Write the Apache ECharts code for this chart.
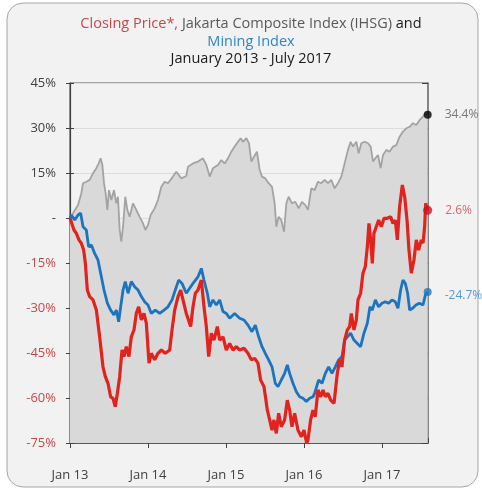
<!DOCTYPE html>
<html>
<head>
<meta charset="utf-8">
<script src="https://cdn.jsdelivr.net/npm/echarts@6/dist/echarts.min.js"></script>
<style>
html,body{margin:0;padding:0;background:#ffffff;}
#c{width:482px;height:491px;}
</style>
</head>
<body>
<div id="c"></div>
<script>
// ---- data: x = years since Jan 2013, y = % change since Jan 2013 ----
const ihsgYears = [0,0.038,0.103,0.145,0.167,0.209,0.252,0.295,0.338,0.368,0.393,0.415,0.436,0.457,0.479,0.5,0.53,0.564,0.594,0.615,0.637,0.658,0.68,0.709,0.735,0.765,0.808,0.85,0.893,0.936,0.966,1.0,1.034,1.085,1.128,1.171,1.214,1.256,1.32,1.363,1.427,1.491,1.513,1.577,1.641,1.705,1.748,1.791,1.833,1.897,1.94,1.983,2.026,2.068,2.111,2.154,2.188,2.218,2.261,2.295,2.325,2.359,2.397,2.432,2.462,2.504,2.547,2.59,2.624,2.645,2.675,2.709,2.744,2.774,2.803,2.846,2.889,2.932,2.974,3.017,3.051,3.094,3.137,3.179,3.222,3.265,3.308,3.35,3.393,3.436,3.479,3.521,3.564,3.598,3.628,3.671,3.701,3.735,3.778,3.821,3.855,3.885,3.915,3.949,3.983,4.013,4.056,4.098,4.141,4.184,4.226,4.269,4.312,4.355,4.397,4.44,4.483,4.526,4.556,4.586];
const ihsgValues = [0,1.6,4.3,8.2,11.6,12.1,12.7,14.9,16.6,18.2,19.9,17.7,11.6,8.2,2.7,9.3,6,9.3,4.9,7.1,-4,-7.9,-2.9,7.1,2.7,0.4,4.9,2.7,0.4,-1.8,-4,-2.3,1,3.2,6,10.4,12.1,11.6,13.8,15.4,13.2,14,17.1,18.2,18.8,19.9,17.7,13.8,16.6,17.7,19.3,18.2,19.9,22.1,23.8,25.4,26.6,25.4,26.6,24.9,18.8,20.4,22.1,16,13.8,13.2,11.6,10.4,4.9,-2.9,0.4,-0.7,-4.6,4.9,7.1,4.9,5.4,3.2,5.4,4.3,2.7,9.9,9.3,12.1,11.6,12.7,11.6,12.7,9.9,11.6,13.8,18.2,22.7,25.4,23.8,25.4,21.6,24.9,25.4,24.9,23.8,18.8,19.9,21,16.6,21,22.7,22.1,23.8,24.3,27.1,28.8,29.9,30.4,31.6,31,32.7,33.8,34.9,34.4];

const closingYears = [0,0.017,0.051,0.081,0.115,0.145,0.175,0.197,0.222,0.252,0.295,0.338,0.38,0.423,0.453,0.487,0.521,0.551,0.581,0.607,0.637,0.667,0.692,0.722,0.756,0.786,0.821,0.85,0.88,0.915,0.949,0.979,1.013,1.043,1.085,1.128,1.171,1.222,1.278,1.308,1.342,1.385,1.419,1.449,1.491,1.513,1.547,1.577,1.607,1.641,1.684,1.718,1.748,1.778,1.812,1.846,1.889,1.919,1.962,2.004,2.047,2.09,2.132,2.175,2.231,2.282,2.325,2.368,2.41,2.444,2.487,2.53,2.56,2.59,2.615,2.645,2.675,2.709,2.752,2.786,2.816,2.846,2.88,2.923,2.966,3.0,3.034,3.051,3.085,3.115,3.145,3.179,3.214,3.244,3.274,3.308,3.342,3.385,3.427,3.457,3.487,3.521,3.556,3.585,3.607,3.641,3.671,3.692,3.726,3.756,3.786,3.812,3.833,3.855,3.876,3.897,3.927,3.957,3.991,4.026,4.068,4.111,4.141,4.171,4.197,4.226,4.261,4.291,4.321,4.346,4.376,4.41,4.44,4.47,4.504,4.526,4.547,4.56,4.586];
const closingValues = [0,-0.1,-4,-5.1,-7.3,-8.4,-10.7,-15.1,-24,-26.2,-27.3,-30.7,-39.6,-49.6,-52.9,-55.1,-59.6,-60.1,-62.9,-58.4,-52.9,-44,-46.2,-42.9,-46.2,-39.6,-37.3,-31.8,-29.6,-34,-31.8,-35.1,-48.4,-45.1,-47.3,-45.1,-44,-45.1,-44,-37.3,-30.7,-26.2,-24,-27.3,-31.8,-31.8,-36.2,-29.6,-25.1,-24,-20.7,-29.6,-36.2,-46.2,-38.4,-40.7,-36.2,-40.7,-39.6,-44,-41.8,-44,-42.9,-44,-43.4,-45.1,-47.3,-46.8,-48.4,-54,-56.2,-64,-67.3,-70.7,-67.3,-71.8,-65.1,-69.6,-67.3,-60.7,-64,-69.6,-65.1,-70.7,-72.9,-70.7,-75,-74,-67.3,-64,-66.2,-57.3,-59.6,-57.3,-59.6,-58.4,-60.7,-61.8,-51.8,-47.3,-49.6,-40.7,-37.3,-36.2,-31.8,-37.3,-34,-27.3,-25.1,-18.4,-16.2,-9.6,-1.8,-7.3,-15.1,-5.1,-2.9,-0.7,-2.9,-0.1,-0.1,0.4,-1.8,-0.7,-7.3,3.8,11,7.1,-0.7,-10.7,-18.4,-14,-7.3,-10.7,-7.3,-8.4,-2.9,4.9,2.6];

const miningYears = [0,0.017,0.06,0.103,0.137,0.167,0.209,0.239,0.274,0.316,0.359,0.402,0.436,0.479,0.521,0.564,0.594,0.624,0.65,0.68,0.709,0.744,0.786,0.829,0.872,0.915,0.957,1.0,1.043,1.094,1.15,1.205,1.256,1.308,1.35,1.393,1.436,1.491,1.534,1.577,1.641,1.684,1.718,1.761,1.791,1.833,1.876,1.919,1.962,2.004,2.047,2.111,2.175,2.231,2.282,2.333,2.376,2.419,2.462,2.504,2.547,2.59,2.632,2.667,2.709,2.752,2.786,2.816,2.859,2.902,2.944,2.987,3.03,3.073,3.115,3.137,3.188,3.231,3.274,3.316,3.359,3.402,3.444,3.487,3.521,3.556,3.598,3.641,3.684,3.726,3.769,3.812,3.846,3.876,3.915,3.957,4.0,4.043,4.085,4.128,4.171,4.205,4.239,4.269,4.299,4.329,4.355,4.393,4.436,4.479,4.526,4.556,4.586];
const miningValues = [0,1,-0.7,1,1.6,-2.9,-4,-9.6,-9,-11.8,-14,-19.6,-24,-28.4,-30.7,-32.3,-30.7,-34.6,-29.6,-24,-21.2,-25.1,-21.2,-22.9,-24,-26.2,-27.9,-29,-31.8,-30.7,-31.8,-30.7,-29.6,-27.3,-24,-20.7,-21.8,-25.1,-23.4,-21.8,-19.6,-16.8,-20.7,-25.1,-29.6,-27.3,-29,-27.3,-31.2,-31.8,-33.4,-31.8,-33.4,-34,-35.7,-37.9,-35.7,-39.6,-42.9,-45.1,-47.3,-49.6,-55.1,-56.2,-54,-51.8,-49,-51.8,-55.1,-57.9,-59.6,-60.1,-61.2,-60.1,-59.6,-58.4,-54,-55.1,-51.8,-49.6,-51.8,-49.6,-47.3,-46.2,-40.7,-39.6,-38.4,-40.7,-41.8,-42.9,-38.4,-35.1,-29.6,-30.7,-27.3,-29.6,-28.4,-27.9,-28.4,-27.3,-27.9,-30.1,-24,-20.7,-21.8,-25.1,-30.7,-30.1,-29,-28.4,-29,-25.7,-24.7];

const xTickLabels = ['Jan 13', 'Jan 14', 'Jan 15', 'Jan 16', 'Jan 17'];
const yTicks = [-75, -60, -45, -30, -15, 0, 15, 30, 45];

const titleLine1 = ['Closing Price*,', ' Jakarta Composite Index (IHSG)', ' and'];
const titleLine2 = 'Mining Index';
const titleLine3 = 'January 2013 - July 2017';

// ---- styling ----
const FONT = '"Open Sans", "Noto Sans", sans-serif';
const RED = '#e2221c', BLUE = '#1b74c0', GRAY = '#a3a3a3';
const RED_TXT = '#c9484a', BLUE_TXT = '#2e86c8', GRAY_TXT = '#595959', DARK = '#404040';

function zip(a, b) { return a.map((d, i) => [d, b[i]]); }
function last(a, b) { return [[a[a.length - 1], b[b.length - 1]]]; }

const xMax = 4.59;
const chart = echarts.init(document.getElementById('c'));

const gridRect = { left: 70, right: 54, top: 83, bottom: 48, containLabel: false };
const xBase = { type: 'value', min: 0, max: xMax, interval: 1 };
const yBase = { type: 'value', min: yTicks[0], max: yTicks[yTicks.length - 1], interval: 15 };

chart.setOption({
  animation: false,
  backgroundColor: '#ffffff',
  textStyle: { fontFamily: FONT },
  graphic: [
    { type: 'rect', z: -10, shape: { x: 7, y: 3, width: 471, height: 484, r: 16 },
      style: { fill: '#f2f2f2', stroke: '#a6a6a6', lineWidth: 1 } },
    { type: 'text', x: 251, y: 24, style: {
        text: '{r|' + titleLine1[0] + '}{g|' + titleLine1[1] + '}{k|' + titleLine1[2] + '}',
        align: 'center', verticalAlign: 'middle',
        rich: {
          r: { fill: RED_TXT, fontSize: 14.5, fontFamily: FONT },
          g: { fill: GRAY_TXT, fontSize: 14.5, fontFamily: FONT },
          k: { fill: '#1a1a1a', fontSize: 14.5, fontFamily: FONT }
        } } },
    { type: 'text', x: 251, y: 42, style: { text: titleLine2, fill: BLUE_TXT, fontSize: 14.5, fontFamily: FONT, align: 'center', verticalAlign: 'middle' } },
    { type: 'text', x: 251, y: 59, style: { text: titleLine3, fill: '#1a1a1a', fontSize: 14.5, fontFamily: FONT, align: 'center', verticalAlign: 'middle' } }
  ],
  grid: [
    Object.assign({ show: true, backgroundColor: 'transparent', borderColor: '#595959', borderWidth: 1.2 }, gridRect),
    Object.assign({ show: false }, gridRect)
  ],
  xAxis: [
    Object.assign({}, xBase, {
      gridIndex: 0, position: 'bottom',
      axisLine: { show: true, onZero: false, lineStyle: { color: '#595959', width: 1.2 } },
      axisTick: { show: true, length: 5, lineStyle: { color: '#404040' } },
      axisLabel: { show: true, margin: 26, fontSize: 13, color: DARK, fontFamily: FONT, showMaxLabel: false,
        formatter: v => (Math.abs(v - Math.round(v)) < 1e-6 ? (xTickLabels[Math.round(v)] || '') : '') },
      splitLine: { show: false }
    }),
    Object.assign({}, xBase, {
      gridIndex: 1, position: 'bottom',
      axisLine: { show: false, onZero: false },
      axisTick: { show: true, inside: true, length: 5, lineStyle: { color: '#404040' } },
      axisLabel: { show: false }, splitLine: { show: false }
    })
  ],
  yAxis: [
    Object.assign({}, yBase, {
      gridIndex: 0, position: 'left',
      axisLine: { show: true, onZero: false, lineStyle: { color: '#404040', width: 1.2 } },
      axisTick: { show: true, length: 4, lineStyle: { color: '#404040' } },
      axisLabel: { show: true, margin: 14, fontFamily: FONT,
        formatter: v => v === 0 ? '{p|-}' : (v < 0 ? '{n|' + v + '%}' : '{p|' + v + '%}'),
        rich: {
          p: { color: DARK, fontSize: 13, fontFamily: FONT },
          n: { color: RED_TXT, fontSize: 13, fontFamily: FONT }
        } },
      splitLine: { show: true, lineStyle: { color: '#dcdcdc', width: 1 } }
    }),
    Object.assign({}, yBase, {
      gridIndex: 0, position: 'right',
      axisLine: { show: true, onZero: false, lineStyle: { color: '#7f7f7f', width: 1.5 } },
      axisTick: { show: true, inside: true, length: 6, lineStyle: { color: '#404040' } },
      axisLabel: { show: false }, splitLine: { show: false }
    }),
    Object.assign({}, yBase, {
      gridIndex: 1, position: 'left',
      axisLine: { show: false, onZero: false },
      axisTick: { show: true, inside: true, length: 4, lineStyle: { color: '#404040' } },
      axisLabel: { show: false }, splitLine: { show: false }
    })
  ],
  series: [
    { name: 'IHSG', type: 'line', xAxisIndex: 0, yAxisIndex: 0, data: zip(ihsgYears, ihsgValues), showSymbol: false, symbol: 'none',
      lineStyle: { color: GRAY, width: 1.8 }, areaStyle: { color: '#d9d9d9', opacity: 1, origin: 'start' }, z: 2 },
    { name: 'Mining Index', type: 'line', xAxisIndex: 0, yAxisIndex: 0, data: zip(miningYears, miningValues), showSymbol: false, symbol: 'none',
      lineStyle: { color: BLUE, width: 2.8 }, z: 3 },
    { name: 'Closing Price', type: 'line', xAxisIndex: 0, yAxisIndex: 0, data: zip(closingYears, closingValues), showSymbol: false, symbol: 'none',
      lineStyle: { color: RED, width: 3.2 }, z: 4 },
    { type: 'scatter', xAxisIndex: 0, yAxisIndex: 0, data: last(ihsgYears, ihsgValues), symbolSize: 8, itemStyle: { color: '#000000' }, z: 6,
      label: { show: true, position: 'right', distance: 13, fontSize: 12, fontFamily: FONT, color: GRAY_TXT, formatter: p => p.value[1] + '%' } },
    { type: 'scatter', xAxisIndex: 0, yAxisIndex: 0, data: last(closingYears, closingValues), symbolSize: 9, itemStyle: { color: '#c8161d' }, z: 6,
      label: { show: true, position: 'right', distance: 13, fontSize: 12, fontFamily: FONT, color: RED_TXT, formatter: p => p.value[1] + '%' } },
    { type: 'scatter', xAxisIndex: 0, yAxisIndex: 0, data: last(miningYears, miningValues), symbolSize: 8, itemStyle: { color: '#1f78c1' }, z: 6,
      label: { show: true, position: 'right', distance: 13, offset: [0, 3], fontSize: 12, fontFamily: FONT, color: BLUE_TXT, formatter: p => p.value[1] + '%' } }
  ]
});
</script>
</body>
</html>
